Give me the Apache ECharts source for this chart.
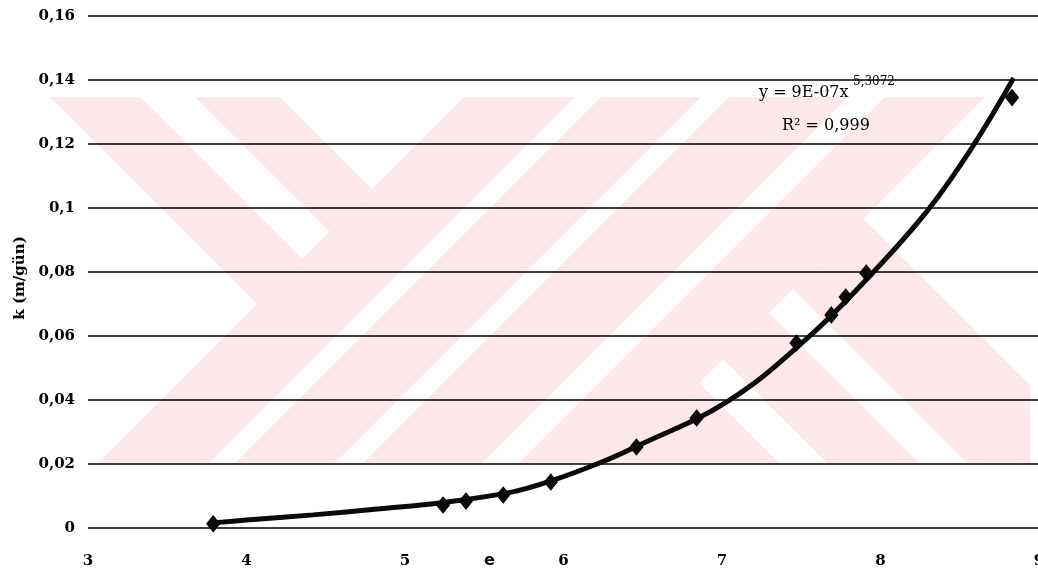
<!DOCTYPE html>
<html>
<head>
<meta charset="utf-8">
<script src="https://cdn.jsdelivr.net/npm/echarts@6/dist/echarts.min.js"></script>
<style>
html,body{margin:0;padding:0;background:#fff;}
#chart{width:1038px;height:578px;}
</style>
</head>
<body>
<div id="chart"></div>
<script>
// Measured points (x, k)
const pointX = [3.79, 5.24, 5.385, 5.62, 5.92, 6.46, 6.84, 7.47, 7.69, 7.78, 7.91, 8.83];
const pointY = [0.0013, 0.0072, 0.0084, 0.0103, 0.0144, 0.0253, 0.0344, 0.0578, 0.0666, 0.0722, 0.0797, 0.1345];
// Power trendline
const trendX = [3.79, 4.00, 4.42, 4.84, 5.24, 5.68, 5.92, 6.23, 6.46, 7.03, 7.54, 7.95, 8.30, 8.58, 8.84];
const trendY = [0.0016, 0.0025, 0.0041, 0.0060, 0.0080, 0.0113, 0.0147, 0.0204, 0.0255, 0.0394, 0.0594, 0.0797, 0.0994, 0.1191, 0.1406];
const xTicks = [3, 4, 5, 6, 7, 8, 9];
const yTicks = [0, 0.02, 0.04, 0.06, 0.08, 0.1, 0.12, 0.14, 0.16];
const yAxisTitle = 'k (m/gün)';
const eqMain = 'y = 9E-07x';
const eqExp = '5,3072';
const r2Text = 'R² = 0,999';
const strayLabel = 'e';

// ---- background watermark (decorative, pixel space) ----
const WM_BOX = {l: 50, r: 1030, t: 97, b: 463};
const WM_FILL = '#fce8eb';
// bands given in u = x + y, v = x - y  : [u1, u2, v1, v2]
const WM_BANDS = [
  [-3000, 561, -47, 43], [-3000, 561, 98, 183],
  [561, 672, -3000, 3000], [698, 798, -3000, 3000], [826, 945, -3000, 3000], [982, 1082, -3000, 3000],
  [1082, 4000, -3000, 316], [1082, 4000, 364, 456], [1082, 4000, 504, 645]
];
function uv2xy(u, v) { return [(u + v) / 2, (u - v) / 2]; }
function clipPoly(pts, box) {
  const edges = [
    p => p[0] >= box.l, p => p[0] <= box.r, p => p[1] >= box.t, p => p[1] <= box.b
  ];
  const inter = [
    (a, b) => { const t = (box.l - a[0]) / (b[0] - a[0]); return [box.l, a[1] + t * (b[1] - a[1])]; },
    (a, b) => { const t = (box.r - a[0]) / (b[0] - a[0]); return [box.r, a[1] + t * (b[1] - a[1])]; },
    (a, b) => { const t = (box.t - a[1]) / (b[1] - a[1]); return [a[0] + t * (b[0] - a[0]), box.t]; },
    (a, b) => { const t = (box.b - a[1]) / (b[1] - a[1]); return [a[0] + t * (b[0] - a[0]), box.b]; }
  ];
  let out = pts;
  for (let e = 0; e < 4; e++) {
    const inp = out; out = [];
    if (!inp.length) break;
    for (let i = 0; i < inp.length; i++) {
      const cur = inp[i], prev = inp[(i + inp.length - 1) % inp.length];
      const ci = edges[e](cur), pi = edges[e](prev);
      if (ci) { if (!pi) out.push(inter[e](prev, cur)); out.push(cur); }
      else if (pi) out.push(inter[e](prev, cur));
    }
  }
  return out;
}
const wmGraphics = [];
WM_BANDS.forEach(b => {
  const pts = [uv2xy(b[0], b[2]), uv2xy(b[1], b[2]), uv2xy(b[1], b[3]), uv2xy(b[0], b[3])];
  const c = clipPoly(pts, WM_BOX);
  if (c.length >= 3) {
    wmGraphics.push({type: 'polygon', silent: true, z: -10, shape: {points: c}, style: {fill: WM_FILL}});
  }
});

const fmt = v => String(Math.round(v * 100) / 100).replace('.', ',');
const serif = 'DejaVu Serif';

const chart = echarts.init(document.getElementById('chart'), null, {renderer: 'canvas'});
chart.setOption({
  backgroundColor: '#ffffff',
  animation: false,
  grid: {left: 88, right: -1, top: 16, bottom: 50, containLabel: false, outerBoundsMode: 'none'},
  xAxis: {
    type: 'value', min: xTicks[0], max: xTicks[xTicks.length - 1], interval: 1,
    axisLine: {show: false}, axisTick: {show: false}, splitLine: {show: false},
    axisLabel: {color: '#000', fontFamily: serif, fontWeight: 'bold', fontSize: 15, margin: 26,
      showMaxLabel: true, showMinLabel: true, hideOverlap: false, formatter: fmt}
  },
  yAxis: {
    type: 'value', min: yTicks[0], max: yTicks[yTicks.length - 1], interval: 0.02,
    axisLine: {show: false}, axisTick: {show: false},
    splitLine: {show: true, lineStyle: {color: '#000', width: 1.5}},
    axisLabel: {color: '#000', fontFamily: serif, fontWeight: 'bold', fontSize: 15, margin: 13, formatter: fmt},
    name: yAxisTitle, nameLocation: 'middle', nameGap: 58, nameRotate: 90,
    nameTextStyle: {color: '#000', fontFamily: serif, fontWeight: 'bold', fontSize: 15, padding: [0, 12, 0, 0]}
  },
  graphic: wmGraphics.concat([
    {type: 'text', silent: true, z: 10, left: 759, top: 85,
      style: {text: eqMain, fill: '#000', font: '16px "DejaVu Serif"'}},
    {type: 'text', silent: true, z: 10, left: 853, top: 76,
      style: {text: eqExp, fill: '#000', font: '12px "DejaVu Serif"'}},
    {type: 'text', silent: true, z: 10, left: 782, top: 118,
      style: {text: r2Text, fill: '#000', font: '16px "DejaVu Serif"'}},
    {type: 'text', silent: true, z: 10, left: 484, top: 553,
      style: {text: strayLabel, fill: '#000', font: 'bold 16px "DejaVu Sans"'}}
  ]),
  series: [
    {
      type: 'line', name: 'trend', data: trendX.map((x, i) => [x, trendY[i]]),
      smooth: 0.4, showSymbol: false, symbol: 'none', z: 3,
      lineStyle: {color: '#0a0a0a', width: 5}
    },
    {
      type: 'scatter', name: 'k', data: pointX.map((x, i) => [x, pointY[i]]),
      symbol: 'diamond', symbolSize: [13, 16], z: 4,
      itemStyle: {color: '#0a0a0a', opacity: 1, borderColor: '#000', borderWidth: 1}
    }
  ]
});
</script>
</body>
</html>
